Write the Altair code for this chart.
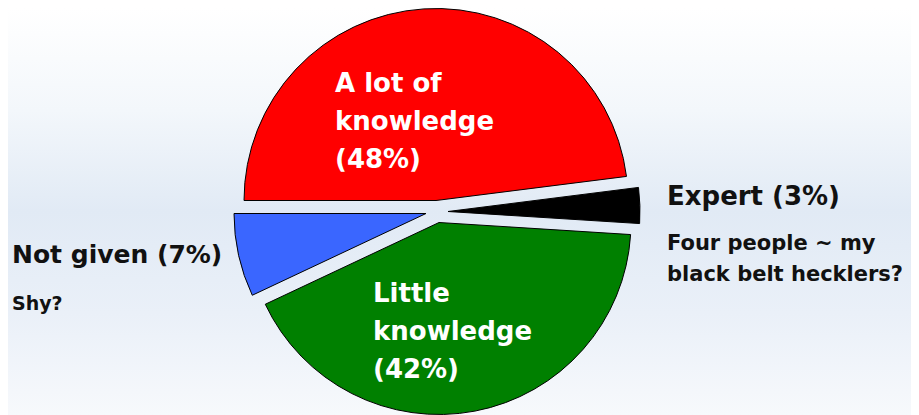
import altair as alt
import pandas as pd
import math

# ---- data ----
categories = ["A lot of knowledge", "Expert", "Little knowledge", "Not given"]
shares = [48, 3, 42, 7]
slice_order = [0, 1, 2, 3]
slice_colors = ["#ff0000", "#000000", "#008000", "#3a66ff"]

inside_labels = ["A lot of\nknowledge\n(48%)", "Little\nknowledge\n(42%)"]
outside_titles = ["Expert (3%)", "Not given (7%)"]
outside_notes = ["Four people ~ my\nblack belt hecklers?", "Shy?"]

df = pd.DataFrame({"category": categories, "share": shares, "order": slice_order})

W, H = 903, 407
CX, CY = 429, 203.5
R = 192
explode = {"A lot of knowledge": (-1, -11), "Expert": (11, 0),
           "Little knowledge": (2, 11), "Not given": (-11, 2)}

theta_scale = alt.Scale(domain=[0, 100], range=[1.5 * math.pi, 3.5 * math.pi])
color_scale = alt.Scale(domain=categories, range=slice_colors)

bg = alt.Chart(pd.DataFrame({"a": [0]})).mark_rect(
    color=alt.Gradient(
        gradient="linear", x1=0, x2=0, y1=0, y2=1,
        stops=[alt.GradientStop(offset=0, color="#ffffff"),
               alt.GradientStop(offset=0.25, color="#f3f7fb"),
               alt.GradientStop(offset=0.5, color="#e1eaf5"),
               alt.GradientStop(offset=0.75, color="#eaf0f8"),
               alt.GradientStop(offset=1, color="#f7f9fc")])
).encode(x=alt.value(0), x2=alt.value(W), y=alt.value(0), y2=alt.value(H))

base = alt.Chart(df).transform_window(
    cum="sum(share)", sort=[alt.SortField("order")], frame=[None, 0]
).transform_calculate(start="datum.cum - datum.share")

layers = [bg]
for cat in categories:
    dx, dy = explode[cat]
    layers.append(
        base.transform_filter(alt.datum.category == cat)
        .mark_arc(radius=R, stroke="#000000", strokeWidth=1)
        .encode(
            theta=alt.Theta("start:Q", scale=theta_scale, stack=None),
            theta2="cum:Q",
            color=alt.Color("category:N", scale=color_scale, legend=None),
            x=alt.value(CX + dx), y=alt.value(CY + dy),
        )
    )

FONT = "DejaVu Sans"

def text_layer(txt, x, y, size, color, lh):
    return alt.Chart(pd.DataFrame({"t": [txt]})).mark_text(
        align="left", baseline="alphabetic", font=FONT, fontWeight="bold",
        fontSize=size, color=color, lineBreak="\n", lineHeight=lh
    ).encode(text="t:N", x=alt.value(x), y=alt.value(y))

layers += [
    text_layer(inside_labels[0], 327, 84, 26, "#ffffff", 38),
    text_layer(inside_labels[1], 365, 294, 26, "#ffffff", 38),
    text_layer(outside_titles[0], 659, 197, 26, "#111111", 30),
    text_layer(outside_notes[0], 659, 242, 21, "#111111", 31),
    text_layer(outside_titles[1], 4, 255, 25, "#111111", 30),
    text_layer(outside_notes[1], 4, 302, 19, "#111111", 30),
]

chart = alt.layer(*layers).properties(
    width=W, height=H, padding=0, autosize="none"
).configure_view(stroke=None)

chart.save("out.html", embed_options={"renderer": "svg", "actions": False})
